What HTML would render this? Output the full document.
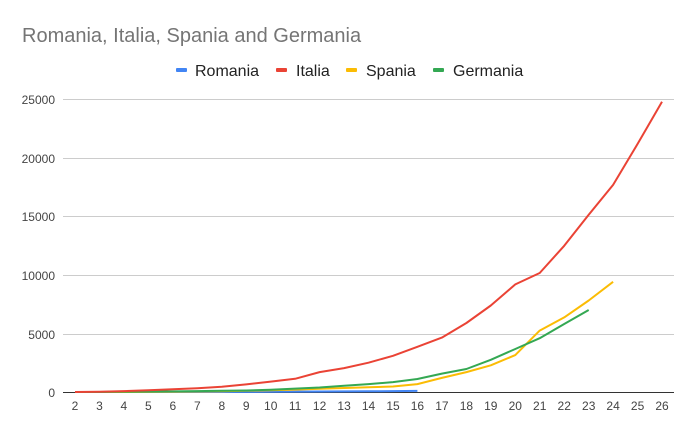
<!DOCTYPE html>
<html><head><meta charset="utf-8"><style>body{margin:0;background:#fff}svg{display:block}text{font-family:"Liberation Sans",Arial,sans-serif}</style></head><body>
<svg width="699" height="434" viewBox="0 0 699 434" xmlns="http://www.w3.org/2000/svg">
<rect width="699" height="434" fill="#fff"/>
<text x="22" y="42" font-size="20" fill="#757575">Romania, Italia, Spania and Germania</text>
<rect x="176" y="68" width="11" height="4" rx="1" fill="#4285f4"/><text x="195" y="76" font-size="16" fill="#222">Romania</text>
<rect x="276" y="68" width="11" height="4" rx="1" fill="#ea4335"/><text x="296" y="76" font-size="16" fill="#222">Italia</text>
<rect x="346" y="68" width="11" height="4" rx="1" fill="#fbbc04"/><text x="366" y="76" font-size="16" fill="#222">Spania</text>
<rect x="433" y="68" width="11" height="4" rx="1" fill="#34a853"/><text x="453" y="76" font-size="16" fill="#222">Germania</text>
<g stroke="#cccccc" stroke-width="1">
<line x1="63" x2="674" y1="99.5" y2="99.5"/><line x1="63" x2="674" y1="158.5" y2="158.5"/><line x1="63" x2="674" y1="216.5" y2="216.5"/><line x1="63" x2="674" y1="275.5" y2="275.5"/><line x1="63" x2="674" y1="334.5" y2="334.5"/>
</g>
<line x1="63" x2="674" y1="392.5" y2="392.5" stroke="#333"/>
<g font-size="12" fill="#444" text-anchor="end">
<text x="55" y="104">25000</text><text x="55" y="163">20000</text><text x="55" y="221">15000</text><text x="55" y="280">10000</text><text x="55" y="339">5000</text><text x="55" y="397">0</text>
</g>
<g font-size="12" fill="#444" text-anchor="middle">
<text x="75" y="410">2</text><text x="99.5" y="410">3</text><text x="123.9" y="410">4</text><text x="148.4" y="410">5</text><text x="172.8" y="410">6</text><text x="197.3" y="410">7</text><text x="221.8" y="410">8</text><text x="246.2" y="410">9</text><text x="270.7" y="410">10</text><text x="295.1" y="410">11</text><text x="319.6" y="410">12</text><text x="344.1" y="410">13</text><text x="368.5" y="410">14</text><text x="393" y="410">15</text><text x="417.4" y="410">16</text><text x="441.9" y="410">17</text><text x="466.4" y="410">18</text><text x="490.8" y="410">19</text><text x="515.3" y="410">20</text><text x="539.7" y="410">21</text><text x="564.2" y="410">22</text><text x="588.7" y="410">23</text><text x="613.1" y="410">24</text><text x="637.6" y="410">25</text><text x="662" y="410">26</text>
</g>
<g fill="none" stroke-width="2" stroke-linejoin="round">
<polyline stroke="#4285f4" points="75,392 99.5,392 123.9,392 148.4,392 172.8,392 197.3,392 221.8,392 246.2,391.9 270.7,391.7 295.1,391.6 319.6,391.5 344.1,391.4 368.5,391.3 393,391.1 417.4,390.9"/>
<polyline stroke="#fbbc04" points="75,392 99.5,392 123.9,392 148.4,391.9 172.8,391.7 197.3,391.5 221.8,391.2 246.2,390.8 270.7,390.2 295.1,389.6 319.6,388.8 344.1,388 368.5,387.3 393,386.5 417.4,384.1 441.9,377.9 466.4,372.1 490.8,365.3 515.3,355.1 539.7,330.6 564.2,317.4 588.7,300.5 613.1,281.8"/>
<polyline stroke="#34a853" points="75,392 99.5,392 123.9,391.8 148.4,391.6 172.8,391.4 197.3,391.1 221.8,390.8 246.2,390.5 270.7,389.8 295.1,388.6 319.6,387.5 344.1,385.7 368.5,384.1 393,382.1 417.4,379 441.9,373.6 466.4,369 490.8,359.8 515.3,349 539.7,338.2 564.2,324 588.7,310"/>
<polyline stroke="#ea4335" points="75,392 99.5,391.8 123.9,391.1 148.4,390.2 172.8,389.3 197.3,388.2 221.8,386.8 246.2,384.4 270.7,381.6 295.1,378.8 319.6,372.1 344.1,368.1 368.5,362.7 393,355.8 417.4,346.8 441.9,337.6 466.4,323 490.8,305.5 515.3,284.4 539.7,273 564.2,245.8 588.7,214.8 613.1,184.9 637.6,143.9 662,101.8"/>
</g>
</svg>
</body></html>
